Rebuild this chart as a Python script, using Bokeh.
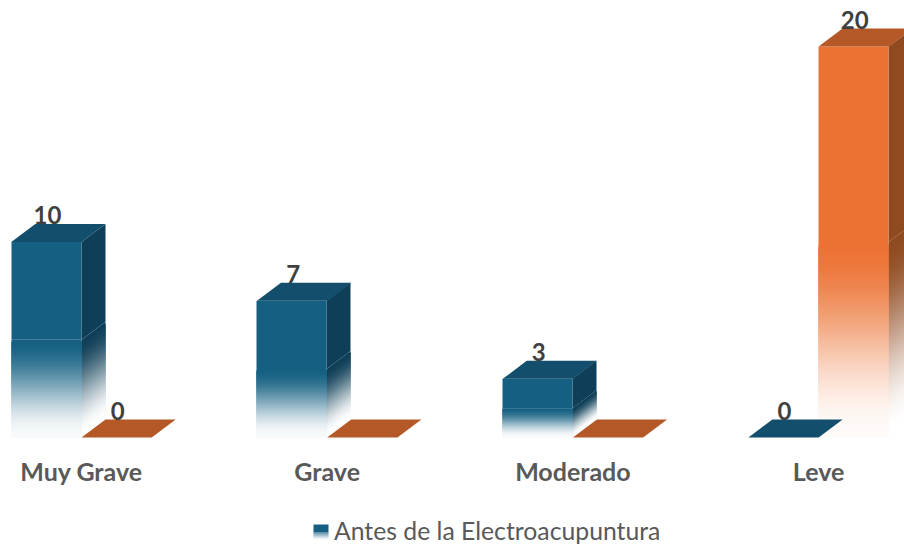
from bokeh.plotting import figure
from bokeh.models import Range1d, FixedTicker, Legend, LegendItem
from bokeh.core.properties import value
from bokeh.embed import file_html
from bokeh.resources import INLINE

categories = ["Muy Grave", "Grave", "Moderado", "Leve"]
antes = [10, 7, 3, 0]
despues = [0, 0, 0, 20]
antes_labels = ["10", "7", "3", "0"]
despues_labels = ["0", "", "", "20"]
legend_label = "Antes de la Electroacupuntura"

W, H = 904, 544
UX, UY = 245.7, 19.55
X0_PX = 81
BAR = 70.2 / UX
DX, DY = 24 / UX, 18 / UY
FONT = "Lato"

FRONT = [(0x15, 0x60, 0x82), (0xEC, 0x72, 0x33)]
SIDE = [(0x0F, 0x3F, 0x58), (0x8F, 0x4A, 0x20)]
TOP = [(0x13, 0x4E, 0x6C), (0xB3, 0x58, 0x26)]


def hexc(c, t=0.0):
    """Blend colour c towards white by t."""
    return "#%02x%02x%02x" % tuple(round(v + (255 - v) * t) for v in c)


def snap(x):
    """Round a data x to a whole pixel so nested face edges stay crisp."""
    return round(x * UX + X0_PX) / UX - X0_PX / UX


def ease(u):
    """Soft start of the fade, soft end into white."""
    return u * u * (3 - 2 * u)


p = figure(width=W, height=H, output_backend="svg", toolbar_location=None,
           x_range=Range1d(-X0_PX / UX, (W - X0_PX) / UX),
           y_range=Range1d(-(H - 437) / UY, 437 / UY),
           min_border=0, outline_line_color=None, border_fill_color="white")
p.ygrid.visible = False
p.xgrid.visible = False
p.yaxis.visible = False

ax = p.xaxis[0]
ax.fixed_location = 0
ax.ticker = FixedTicker(ticks=list(range(len(categories))))
ax.major_label_overrides = {i: c for i, c in enumerate(categories)}
ax.axis_line_color = None
ax.major_tick_line_color = None
ax.minor_tick_line_color = None
ax.major_label_standoff = 12
ax.major_label_text_font = FONT
ax.major_label_text_font_style = "bold"
ax.major_label_text_font_size = "25px"
ax.major_label_text_color = "#595959"

STEPS = 60
OVER = 3


def bar(x0, v, s):
    """Draw one 3-D bar of value v; x0 is its front-left corner, s the series."""
    x0 = snap(x0)
    x1 = snap(x0 + BAR)
    x2 = snap(x1 + DX)
    sx = [x1, x2, x2, x1]
    levels = [v / 2 * (1 - i / STEPS) for i in range(STEPS)]
    lows = [max(v / 2 * (1 - (i + OVER) / STEPS), 0) for i in range(STEPS)]
    # side face: slices run parallel to its slanted edge and overlap
    xs, ys, cols = [sx], [[v, v + DY, v / 2 + DY, v / 2]], [hexc(SIDE[s])]
    for i in range(STEPS):
        xs.append(sx)
        ys.append([levels[i], levels[i] + DY, lows[i] + DY, lows[i]])
        cols.append(hexc(SIDE[s], ease((i + 1) / STEPS)))
    p.patches(xs, ys, fill_color=cols, line_color=None)
    # front face: solid upper half, then fading downward
    p.quad(left=[x0], right=[x1], top=[v], bottom=[v / 2], fill_color=hexc(FRONT[s]), line_color=None)
    cols = [hexc(FRONT[s], ease((i + 1) / STEPS) * 0.97) for i in range(STEPS)]
    p.quad(left=x0, right=x1, top=levels, bottom=lows, fill_color=cols, line_color=None)


def top_face(x0, v, s):
    x1 = x0 + BAR
    p.patch([x0, x1, x1 + DX, x0 + DX], [v, v, v + DY, v + DY], fill_color=hexc(TOP[s]), line_color=None)


for i in range(len(categories)):
    for s, series in enumerate((antes, despues)):
        x0 = i - BAR if s == 0 else i
        if series[i] > 0:
            bar(x0, series[i], s)
for i in range(len(categories)):
    for s, series in enumerate((antes, despues)):
        x0 = i - BAR if s == 0 else i
        top_face(x0, series[i], s)

# value labels
lx, ly, lt = [], [], []
for i in range(len(categories)):
    for s, (series, labels) in enumerate(((antes, antes_labels), (despues, despues_labels))):
        if labels[i]:
            x0 = i - BAR if s == 0 else i
            lx.append(x0 + BAR / 2 + 1 / UX)
            ly.append(series[i] + DY + 9 / UY)
            lt.append(labels[i])
p.text(lx, ly, text=lt, text_align="center", text_baseline="middle",
       text_font=value(FONT), text_font_style="bold", text_font_size="24px", text_color="#404040")

# legend: real legend for the text; its gradient swatch is drawn as glyphs beneath
key = p.quad(left=[], right=[], top=[], bottom=[], fill_color=hexc(FRONT[0]), fill_alpha=0, line_alpha=0)
legend = Legend(items=[LegendItem(label=legend_label, renderers=[key])],
                orientation="horizontal",
                border_line_color=None, background_fill_alpha=0,
                label_text_font=FONT, label_text_font_size="24.75px", label_text_color="#595959",
                glyph_width=17, glyph_height=17, label_standoff=5, padding=0, margin=0, spacing=0)
legend.location = (312, H - 545)
p.add_layout(legend, "center")

sw_l, sw_r = (313 - X0_PX) / UX, (328 - X0_PX) / UX
sw_top, sw_mid, sw_bot = (437 - 524) / UY, (437 - 532) / UY, (437 - 539) / UY
p.quad(left=[sw_l], right=[sw_r], top=[sw_top], bottom=[sw_mid], fill_color=hexc(FRONT[0]), line_color=None)
n = 7
tops = [sw_mid + (sw_bot - sw_mid) * k / n for k in range(n)]
bots = [sw_mid + (sw_bot - sw_mid) * (k + 1) / n for k in range(n)]
cols = [hexc(FRONT[0], (k + 1) / n * 0.95) for k in range(n)]
p.quad(left=sw_l, right=sw_r, top=tops, bottom=bots, fill_color=cols, line_color=None)

open("out.html", "w").write(file_html(p, INLINE))
